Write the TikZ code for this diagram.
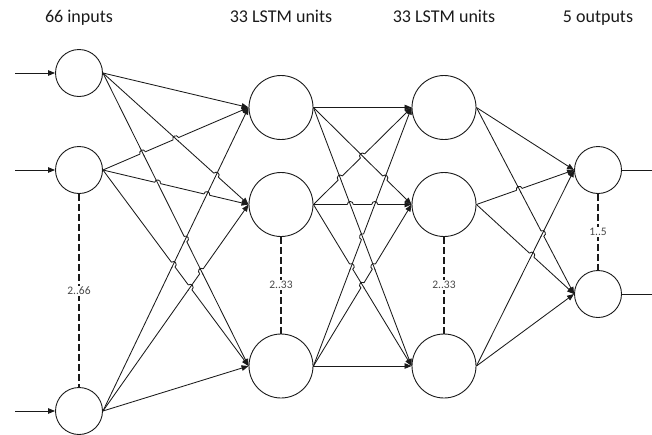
\documentclass[tikz,border=0pt]{standalone}
\usepackage{fontspec}
\setmainfont{Carlito}
\usetikzlibrary{arrows.meta,calc}
\definecolor{ink}{HTML}{1A1A1A}
\definecolor{labelgray}{HTML}{484848}
\begin{document}
\begin{tikzpicture}[x=1pt,y=-1pt,
  neuron/.style={circle,draw=ink,fill=white,line width=0.9pt,inner sep=0pt,minimum size=#1},
  link/.style={draw=ink,line width=0.85pt,-{Triangle[length=7pt,width=5.5pt]}},
  plain/.style={draw=ink,line width=0.85pt},
  dots/.style={draw=ink,line width=1.5pt,dash pattern=on 7pt off 3pt},
  layertitle/.style={anchor=base,text=ink,font=\fontsize{18}{20}\selectfont},
  count/.style={fill=white,inner sep=1pt,text=labelgray,font=\fontsize{11.5}{12}\selectfont}
]
\useasboundingbox (0,0) rectangle (652,434);

% layer captions
\node[layertitle] (t1) at (79,22.5) {66 inputs};
\node[layertitle] (t2) at (281,22.5) {33 LSTM units};
\node[layertitle] (t3) at (444,22.5) {33 LSTM units};
\node[layertitle] (t4) at (598,22.5) {5 outputs};

% neurons
\node[neuron=47pt] (i1) at (79,73) {};
\node[neuron=47pt] (i2) at (79,170) {};
\node[neuron=47pt] (i3) at (79,411) {};
\node[neuron=64pt] (a1) at (281,107.5) {};
\node[neuron=64pt] (a2) at (281,204.5) {};
\node[neuron=64pt] (a3) at (281,366) {};
\node[neuron=64pt] (b1) at (444,107.5) {};
\node[neuron=64pt] (b2) at (444,204.5) {};
\node[neuron=64pt] (b3) at (444,366) {};
\node[neuron=47pt] (o1) at (598,170) {};
\node[neuron=47pt] (o2) at (598,294) {};

% elided units
\draw[dots] (i2.south) -- (i3.north);
\draw[dots] (a2.south) -- (a3.north);
\draw[dots] (b2.south) -- (b3.north);
\draw[dots] (o1.south) -- (o2.north);
\node[count] (c1) at (79,291) {2..66};
\node[count] (c2) at (281,285) {2..33};
\node[count] (c3) at (444,285) {2..33};
\node[count] (c4) at (598,232) {1..5};

% incoming and outgoing signals
\foreach \n/\y in {i1/73,i2/170,i3/411} {
  \coordinate (src-\n) at (15,\y);
  \draw[link] (src-\n) -- (\n.west);
}
\foreach \n/\y in {o1/170,o2/294} {
  \coordinate (dst-\n) at (652,\y);
  \draw[plain] (\n.east) -- (dst-\n);
}

% full connections between layers
\foreach \s in {i1,i2,i3} \foreach \t in {a1,a2,a3} \draw[link] (\s.east) -- (\t.west);
\foreach \s in {a1,a2,a3} \foreach \t in {b1,b2,b3} \draw[link] (\s.east) -- (\t.west);
\foreach \s in {b1,b2,b3} \foreach \t in {o1,o2} \draw[link] (\s.east) -- (\t.west);

% line jumps: first pair runs through, second pair hops over it
\foreach \s/\t/\u/\v in {
  i1/a2/i2/a1, i1/a3/i2/a1, i1/a3/i2/a2, i3/a1/i1/a2, i3/a1/i1/a3,
  i1/a3/i3/a2, i3/a1/i2/a2, i3/a1/i2/a3, i3/a2/i2/a3,
  a1/b2/a2/b1, a1/b3/a2/b1, a1/b3/a2/b2, a3/b1/a1/b2, a1/b3/a3/b1,
  a1/b3/a3/b2, a3/b1/a2/b2, a3/b1/a2/b3, a2/b3/a3/b2,
  b1/o2/b2/o1, b3/o1/b1/o2, b3/o1/b2/o2} {
  \coordinate (P) at (intersection of \s.east--\t.west and \u.east--\v.west);
  \fill[white] (P) circle (3pt);
  \draw[plain] ($(P)!3.6pt!(\s.east)$) -- ($(P)!3.6pt!(\t.west)$);
  \draw[plain] ($(P)!3pt!(\u.east)$) to[out=90,in=90,relative,looseness=1.7] ($(P)!3pt!(\v.west)$);
}
\end{tikzpicture}
\end{document}
